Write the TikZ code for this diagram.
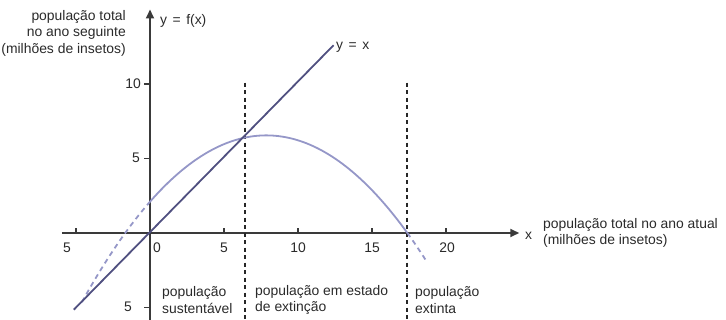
\documentclass[tikz,border=0pt]{standalone}
\usepackage{fontspec}
\setmainfont{Liberation Sans}
\usetikzlibrary{arrows.meta}
\definecolor{axisc}{HTML}{3A3A3A}
\definecolor{txtc}{HTML}{2A2A2A}
\definecolor{linec}{HTML}{505080}
\definecolor{curvec}{HTML}{9597C8}
\begin{document}
\begin{tikzpicture}[
  lbl/.style={font=\fontsize{13.9}{16.5}\selectfont, text=txtc, inner sep=0pt},
  eqlbl/.style={lbl, execute at begin node={\spaceskip=5.5pt\relax}},
  axis/.style={draw=axisc, line width=1.7pt, -{Triangle[length=9pt,width=8pt]}},
  tick/.style={draw=axisc, line width=1.2pt},
  idline/.style={draw=linec, line width=1.8pt},
  curve/.style={draw=curvec, line width=1.8pt},
  curvedash/.style={draw=curvec, line width=1.8pt, dash pattern=on 5pt off 4pt},
  divider/.style={draw=black!85, line width=1.8pt, dash pattern=on 4pt off 3.5pt}
]
\useasboundingbox (0pt,0pt) rectangle (726pt,-320pt);
\begin{scope}[shift={(150pt,-233pt)}, x=14.8pt, y=14.9pt]
  \coordinate (O) at (0,0);
  \coordinate (xl) at (-5.95,0);
  \coordinate (xr) at (24.95,0);
  \coordinate (yb) at (0,-6);
  \coordinate (yt) at (0,15.0);
  \draw[axis] (xl) -- (xr);
  \draw[axis] (yb) -- (yt);
  % x ticks (upward)
  \foreach \t in {-5,5,10,15,20} {
    \draw[tick] (\t,0) -- ++(0,5pt);
  }
  % y ticks (leftward)
  \foreach \t in {-5,5,10} {
    \draw[tick] (0,\t) -- ++(-6pt,0);
  }
  % dividers
  \coordinate (d1t) at (6.4,10.1);
  \coordinate (d1b) at (6.4,-6);
  \coordinate (d2t) at (17.39,10.1);
  \coordinate (d2b) at (17.39,-6);
  \draw[divider] (d1t) -- (d1b);
  \draw[divider] (d2t) -- (d2b);
  % curve
  \draw[curvedash, domain=-4.6:0, samples=30] plot (\x, {2.1+1.133*\x-0.0721*\x*\x});
  \draw[curve, domain=0:17.39, samples=100] plot (\x, {2.1+1.133*\x-0.0721*\x*\x});
  \draw[curvedash, domain=17.39:18.7, samples=10] plot (\x, {2.1+1.133*\x-0.0721*\x*\x});
  % y = x
  \coordinate (ida) at (-5.15,-5.15);
  \coordinate (idb) at (12.4,12.6);
  \draw[idline] (ida) -- (idb);
\end{scope}
% labels
\node[lbl, anchor=east, align=right] (ylab) at (126pt,-33pt) {população total\\no ano seguinte\\(milhões de insetos)};
\node[eqlbl, anchor=west] (fx) at (160pt,-21pt) {y = f(x)};
\node[eqlbl, anchor=west] (yx) at (336pt,-47pt) {y = x};
\node[lbl, anchor=west] (xx) at (525pt,-236pt) {x};
\node[lbl, anchor=west, align=left] (xlab) at (543pt,-233pt) {população total no ano atual\\(milhões de insetos)};
% tick labels
\node[lbl] (tm5) at (67pt,-248pt) {5};
\node[lbl, anchor=west] (t0) at (153pt,-248pt) {0};
\node[lbl] (t5) at (224pt,-248pt) {5};
\node[lbl] (t10) at (298pt,-248pt) {10};
\node[lbl] (t15) at (372pt,-248pt) {15};
\node[lbl] (t20) at (447pt,-248pt) {20};
\node[lbl, anchor=east] (y10) at (141pt,-84pt) {10};
\node[lbl, anchor=east] (y5) at (140pt,-158pt) {5};
\node[lbl, anchor=east] (ym5) at (132pt,-307pt) {5};
% region labels
\node[lbl, anchor=west, align=left] (r1) at (162pt,-300pt) {população\\sustentável};
\node[lbl, anchor=west, align=left] (r2) at (255pt,-300pt) {população em estado\\de extinção};
\node[lbl, anchor=west, align=left] (r3) at (415pt,-300pt) {população\\extinta};
\end{tikzpicture}
\end{document}
